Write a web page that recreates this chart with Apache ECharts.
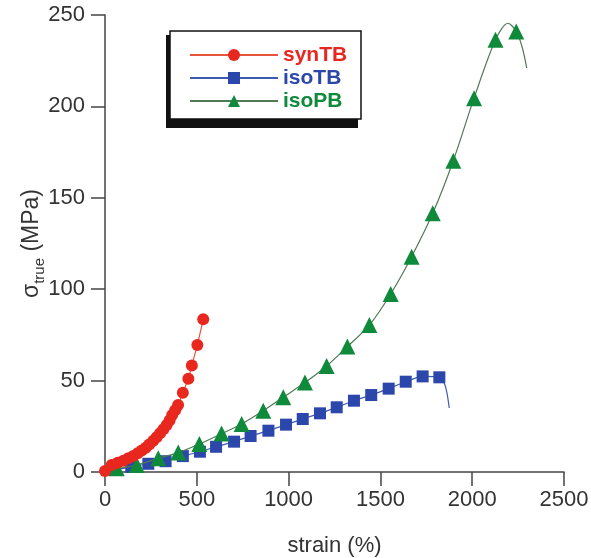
<!DOCTYPE html>
<html>
<head>
<meta charset="utf-8">
<script src="https://cdn.jsdelivr.net/npm/echarts@6/dist/echarts.min.js"></script>
<style>
html,body{margin:0;padding:0;background:#fff;}
#chart{width:591px;height:558px;}
</style>
</head>
<body>
<div id="chart"></div>
<script>
// ---- data (strain %, true stress MPa) ----
const seriesNames = ['synTB', 'isoTB', 'isoPB'];

const synStrain = [0, 36, 69, 100, 127, 154, 178, 200, 222, 241, 263, 281, 300, 318, 336, 352, 366, 382, 398, 424, 454, 473, 503, 535];
const synStress = [0.5, 3.8, 5.1, 6.2, 7.5, 8.8, 10.2, 11.7, 13.3, 15.1, 17.1, 19.0, 21.2, 23.4, 25.7, 28.3, 31.2, 33.8, 36.6, 43.4, 51.0, 58.2, 69.5, 83.5];

const isoTBStrain = [50, 143, 236, 330, 424, 517, 605, 703, 793, 890, 986, 1077, 1171, 1262, 1356, 1450, 1545, 1638, 1730, 1821];
const isoTBStress = [1.2, 2.8, 4.5, 5.9, 8.7, 11.1, 13.8, 16.6, 19.7, 22.6, 25.9, 29.0, 32.1, 35.4, 39.0, 42.1, 45.6, 49.4, 52.3, 51.8];
const isoTBTailStrain = [1848, 1864, 1875];
const isoTBTailStress = [48.5, 42.5, 35.0];

const isoPBStrain = [64, 173, 290, 399, 514, 635, 744, 862, 971, 1089, 1207, 1320, 1440, 1556, 1670, 1785, 1897, 2010, 2127, 2240];
const isoPBStress = [2.0, 3.8, 7.5, 10.6, 15.3, 21.0, 26.3, 33.5, 40.9, 48.9, 58.0, 68.6, 80.4, 97.4, 117.8, 141.5, 170.3, 204.5, 236.5, 241.0];
const isoPBLineStrain = [2195, 2272, 2297];
const isoPBLineStress = [245.5, 232.5, 221.0];

const xTicks = [0, 500, 1000, 1500, 2000, 2500];
const yTicks = [0, 50, 100, 150, 200, 250];

// ---- build ----
function marked(xs, ys) { return xs.map((x, i) => ({ value: [x, ys[i]] })); }
function unmarked(xs, ys) { return xs.map((x, i) => ({ value: [x, ys[i]], symbol: 'none' })); }
function merge(a, b) { return a.concat(b).sort((p, q) => p.value[0] - q.value[0]); }

const FONT = '"Liberation Sans", Arial, Helvetica, sans-serif';
const RED = '#e8271f', BLUE = '#2c47ab', GREEN = '#0f8a3b';

const chart = echarts.init(document.getElementById('chart'), null, { renderer: 'canvas' });
chart.setOption({
  animation: false,
  backgroundColor: '#fff',
  textStyle: { fontFamily: FONT },
  grid: { left: 105, right: 27, top: 15, bottom: 86, containLabel: false, outerBoundsMode: 'none' },
  graphic: [
    { type: 'rect', z: 5, shape: { x: 166, y: 35, width: 192, height: 93 }, style: { fill: '#111' } },
    { type: 'rect', z: 6, shape: { x: 170, y: 31, width: 191, height: 88 }, style: { fill: '#fff', stroke: '#111', lineWidth: 1.5 } }
  ],
  legend: {
    z: 10,
    orient: 'vertical',
    left: 184,
    top: 39,
    itemWidth: 88,
    itemHeight: 15,
    itemGap: 1,
    textStyle: { fontFamily: FONT, fontSize: 21, fontWeight: 'bold', lineHeight: 22 },
    data: [
      { name: 'synTB', textStyle: { color: RED } },
      { name: 'isoTB', textStyle: { color: BLUE } },
      { name: 'isoPB', textStyle: { color: GREEN } }
    ]
  },
  xAxis: {
    type: 'value', min: xTicks[0], max: xTicks[xTicks.length - 1], interval: 500,
    name: 'strain (%)', nameLocation: 'middle', nameGap: 63, nameMoveOverlap: false,
    nameTextStyle: { fontSize: 22, color: '#333', fontFamily: FONT },
    axisLine: { lineStyle: { color: '#444', width: 1.5 } },
    axisTick: { show: true, inside: false, length: 14, lineStyle: { color: '#444', width: 1.5 } },
    axisLabel: { fontSize: 22, color: '#333', margin: 17, fontFamily: FONT, formatter: v => String(v) },
    splitLine: { show: false }
  },
  yAxis: {
    type: 'value', min: yTicks[0], max: yTicks[yTicks.length - 1], interval: 50,
    name: '{s|σ}{t|true}{s| (MPa)}', nameLocation: 'middle', nameGap: 58, nameRotate: 90, nameMoveOverlap: false,
    nameTextStyle: {
      fontSize: 22, color: '#333', fontFamily: FONT,
      rich: {
        s: { fontSize: 23, color: '#333', fontFamily: FONT },
        t: { fontSize: 15, color: '#333', fontFamily: FONT, padding: [16, 0, 0, 0] }
      }
    },
    axisLine: { show: true, lineStyle: { color: '#444', width: 1.5 } },
    axisTick: { show: true, inside: false, length: 14, lineStyle: { color: '#444', width: 1.5 } },
    axisLabel: { fontSize: 22, color: '#333', margin: 20, fontFamily: FONT, formatter: v => String(v) },
    splitLine: { show: false }
  },
  series: [
    {
      name: 'synTB', type: 'line', data: marked(synStrain, synStress),
      symbol: 'circle', symbolSize: 12, smooth: 0.2,
      lineStyle: { color: '#e6553a', width: 1.2 },
      itemStyle: { color: RED }, z: 4
    },
    {
      name: 'isoTB', type: 'line', data: merge(marked(isoTBStrain, isoTBStress), unmarked(isoTBTailStrain, isoTBTailStress)),
      symbol: 'rect', symbolSize: 12, smooth: 0.2,
      lineStyle: { color: '#3c5ab0', width: 1.2 },
      itemStyle: { color: BLUE }, z: 2
    },
    {
      name: 'isoPB', type: 'line', data: merge(marked(isoPBStrain, isoPBStress), unmarked(isoPBLineStrain, isoPBLineStress)),
      symbol: 'triangle', symbolSize: 16, smooth: 0.3,
      lineStyle: { color: '#4f7a55', width: 1.2 },
      itemStyle: { color: GREEN }, z: 3
    }
  ]
});
</script>
</body>
</html>
